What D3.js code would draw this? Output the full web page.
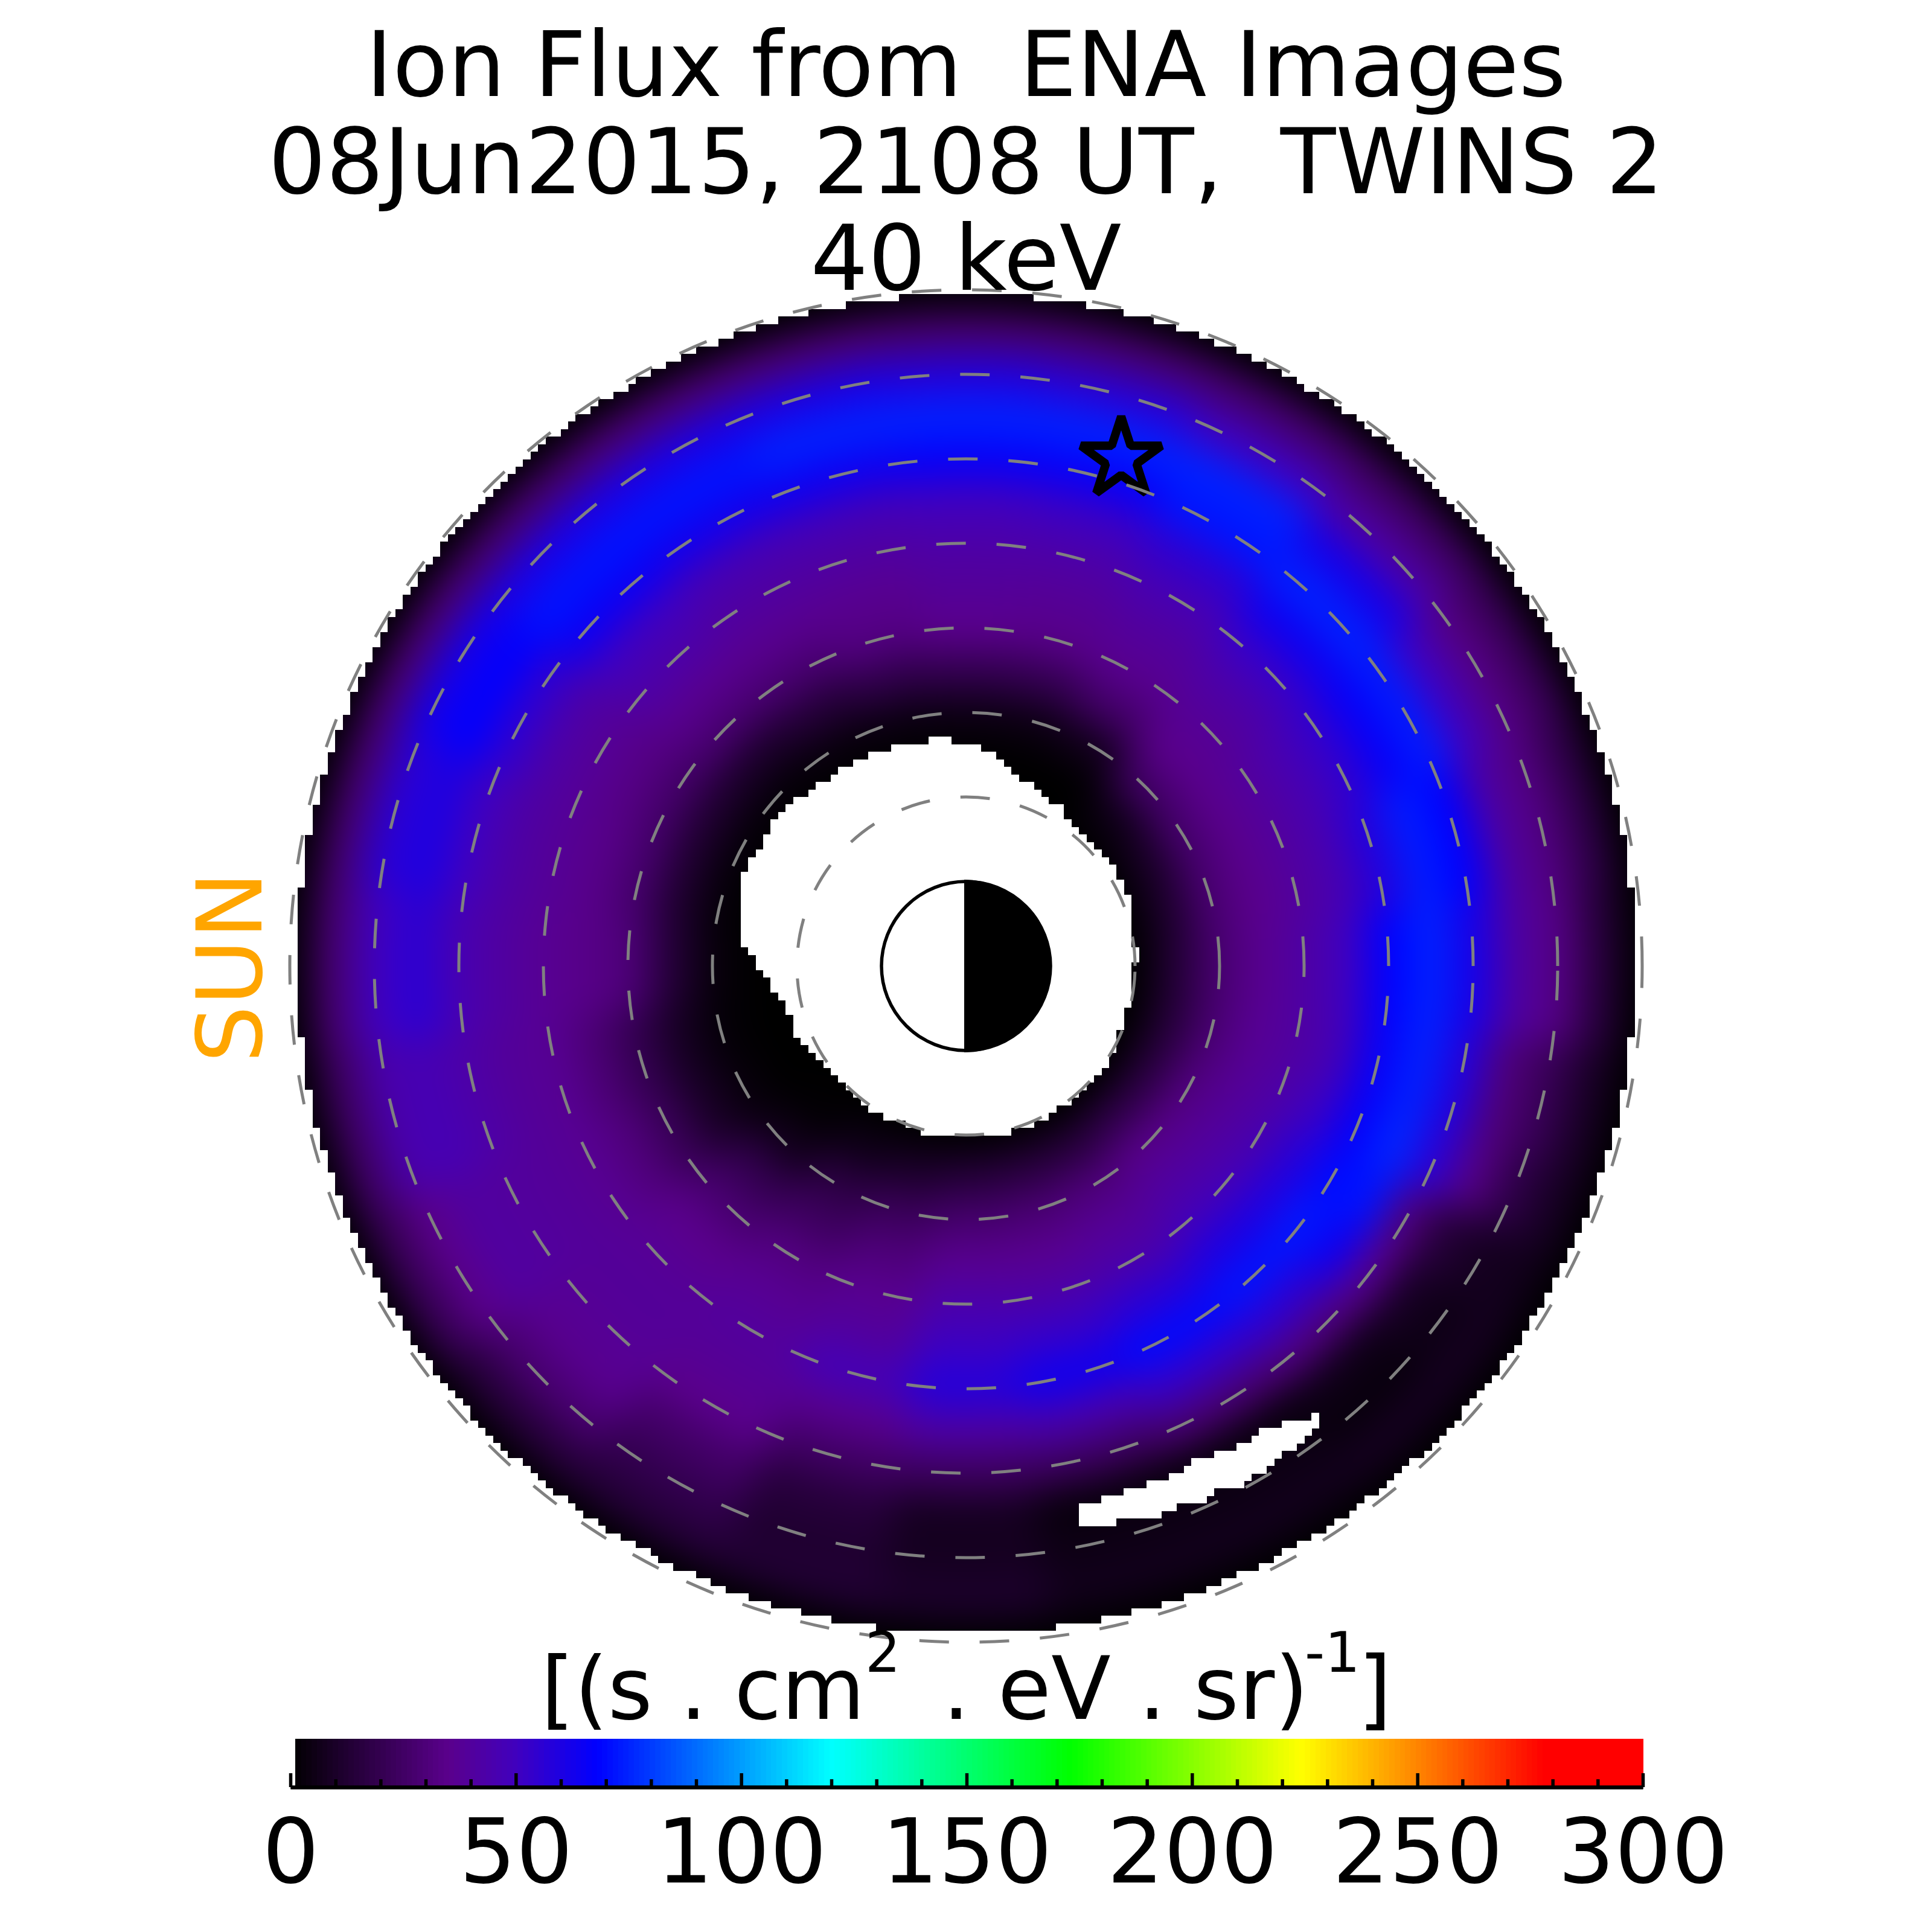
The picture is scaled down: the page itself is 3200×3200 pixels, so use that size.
<!DOCTYPE html>
<html><head><meta charset="utf-8">
<script src="https://cdn.jsdelivr.net/npm/d3@7/dist/d3.min.js"></script>
<style>html,body{margin:0;padding:0;background:#fff}svg{display:block}text{font-family:"DejaVu Sans";white-space:pre}</style>
</head><body><svg id="c" width="3200" height="3200"></svg>
<script>
const spokeAngles = [0,15,30,45,60,75,90,105,120,135,150,165,180,195,210,225,240,255,270,285,300,315,322.5,330,337.5,345];
const shellRadii  = [2,2.5,3,3.5,4,4.5,5,5.5,6,6.5,7,7.5,8];
const flux = [
 [0,14,28,36,42,50,68,75,62,42,33,15,0],
 [0,12,28,35,40,46,58,74,68,42,32,18,0],
 [0,10,27,35,40,46,54,66,74,50,33,22,0],
 [0,6,25,35,38,43,52,64,75,62,42,25,0],
 [0,0,7,26,36,40,46,55,72,75,50,27,0],
 [0,0,5,20,34,38,43,51,66,75,56,28,0],
 [0,0,5,20,35,39,43,50,66,75,58,28,0],
 [0,0,4,18,32,36,41,48,64,75,60,29,0],
 [0,0,3,14,28,36,41,47,63,72,60,29,0],
 [0,0,2,11,28,36,43,50,65,72,60,28,0],
 [0,0,2,12,26,33,38,43,55,68,62,29,0],
 [0,0,2,12,27,34,38,42,50,60,56,28,0],
 [0,0,3,14,30,34,37,41,46,56,50,28,0],
 [0,0,2,9,20,29,37,39,43,47,45,25,0],
 [0,0,3,10,22,31,37,39,40,41,35,22,0],
 [0,1,7,20,28,35,38,39,38,36,28,15,0],
 [0,6,17,24,32,37,40,38,35,26,20,14,0],
 [0,10,22,30,36,40,48,36,25,15,12,13,0],
 [0,14,27,36,44,51,58,42,24,8,8,11,0],
 [0,15,28,36,43,53,64,45,24,3,5,7,0],
 [0,15,30,38,44,56,70,53,29,3,5,7,0],
 [0,18,34,41,48,60,72,55,32,6,3,8,0],
 [0,17,33,40,47,59,73,64,36,9,5,8,0],
 [0,16,32,39,45,57,70,72,32,14,8,7,0],
 [0,15,30,38,43,52,67,76,56,33,18,9,0],
 [0,14,28,37,41,48,66,75,58,31,22,10,0]
];
const colorStops  = [0,35,50,68,120,173,224,278,300];
const colorValues = ["#000000","#5a008c","#4100be","#0000ff","#00ffff","#00ff00","#ffff00","#ff0000","#ff0000"];
const majorTicks = [0,50,100,150,200,250,300];
const minorTicks = [10,20,30,40,60,70,80,90,110,120,130,140,160,170,180,190,210,220,230,240,260,270,280,290];
const shells = [2,3,4,5,6,7,8];
const titleLines = ["Ion Flux from  ENA Images","08Jun2015, 2108 UT,  TWINS 2","40 keV"];
const starPoint = [1.836,6.0];
const outerLimit = 7.92;
const outerCentreY = 0.03;
const holeOutline = [[-0.36,2.68],[-0.84,2.59],[-1.29,2.46],[-1.56,2.26],[-1.87,2.05],[-2.18,1.85],[-2.28,1.74],[-2.40,1.46],[-2.51,1.34],[-2.59,1.16],[-2.68,1.03],[-2.68,0.23],[-2.51,0.11],[-2.40,-0.09],[-2.28,-0.26],[-2.09,-0.58],[-1.97,-0.89],[-1.69,-1.19],[-1.40,-1.49],[-1.15,-1.69],[-0.89,-1.81],[-0.35,-2.03],[0.36,-2.03],[0.98,-1.78],[1.47,-1.38],[1.68,-1.12],[1.88,-0.66],[2.01,0.08],[1.96,0.70],[1.88,0.94],[1.78,1.12],[1.60,1.32],[1.29,1.65],[1.16,1.83],[0.88,2.05],[0.57,2.26],[0.45,2.45],[0.14,2.59],[-0.27,2.68]];
const slitOutline = [[4.15,-5.26],[4.06,-5.26],[4.06,-5.36],[3.84,-5.36],[3.53,-5.49],[3.36,-5.59],[3.21,-5.68],[2.90,-5.80],[2.64,-5.89],[2.50,-5.98],[2.32,-6.07],[2.10,-6.16],[1.88,-6.21],[1.61,-6.29],[1.39,-6.39],[1.29,-6.47],[1.29,-6.61],[1.79,-6.61],[1.79,-6.51],[2.18,-6.51],[2.50,-6.47],[2.50,-6.39],[2.71,-6.39],[2.90,-6.29],[2.90,-6.21],[3.21,-6.16],[3.36,-6.07],[3.53,-5.98],[3.61,-5.89],[3.61,-5.80],[3.84,-5.76],[3.93,-5.67],[4.01,-5.59],[4.06,-5.49],[4.15,-5.44]];

const svg = d3.select("#c");
const x = d3.scaleLinear([-8,8],[480,2720]);
const y = d3.scaleLinear([-8,8],[2720,480]);
const rad = d3.scaleLinear([0,8],[0,1120]);
const color = d3.scaleLinear(colorStops,colorValues);
const cx = x(0), cy = y(0);

const defs = svg.append("defs");
const blur = defs.append("filter").attr("id","soft")
  .attr("filterUnits","userSpaceOnUse").attr("x",0).attr("y",0).attr("width",3200).attr("height",3200)
  .attr("color-interpolation-filters","sRGB");
blur.append("feGaussianBlur").attr("stdDeviation",31);
defs.append("clipPath").attr("id","field").append("circle").attr("cx",cx).attr("cy",cy).attr("r",rad(8.3));

// image: one arc cell per table value
const img = svg.append("g").attr("clip-path","url(#field)").append("g").attr("filter","url(#soft)")
  .append("g").attr("transform",`translate(${cx},${cy})`);
img.append("circle").attr("r",rad(9)).attr("fill","#000");
const arc = d3.arc();
const halfR = 0.25, n = spokeAngles.length;
flux.forEach((col,i)=>col.forEach((v,j)=>{
  const t = spokeAngles[i];
  const lo = t - ((t-spokeAngles[(i-1+n)%n]+360)%360)/2;
  const hi = t + ((spokeAngles[(i+1)%n]-t+360)%360)/2;
  const c = color(v);
  img.append("path").attr("fill",c).attr("stroke",c).attr("stroke-width",1.5)
    .attr("d",arc({innerRadius:rad(shellRadii[j]-halfR),outerRadius:rad(shellRadii[j]+halfR),
      startAngle:(90-hi)*Math.PI/180,endAngle:(90-lo)*Math.PI/180}));
}));

// masked (no data) cells on the image grid
const gridStep = 16/180;
const colsX = d3.range(-90,90).map(i=>i*gridStep);
const colsY = d3.range(-91,90).map(i=>(i+0.5)*gridStep);
let maskPath = d3.path();
const w = x(gridStep)-x(0);
colsX.forEach(gx=>colsY.forEach(gy=>{
  const mx=gx+gridStep/2,my=gy+gridStep/2;
  if(Math.hypot(mx,my-outerCentreY)>outerLimit||d3.polygonContains(holeOutline,[mx,my])||d3.polygonContains(slitOutline,[mx,my]))
    maskPath.rect(x(gx),y(gy+gridStep),w+0.5,w+0.5);
}));
svg.append("path").attr("d",maskPath.toString()).attr("fill","#fff").attr("shape-rendering","crispEdges");
// everything beyond the square grid is white too
svg.append("path").attr("fill-rule","evenodd").attr("fill","#fff")
  .attr("d",`M${cx-rad(8.6)},${cy-rad(8.6)}h${rad(17.2)}v${rad(17.2)}h${-rad(17.2)}z M${x(-8)},${y(8)}H${x(8)}V${y(-8)}H${x(-8)}z`);

// star
svg.append("path").attr("transform",`translate(${x(starPoint[0])},${y(starPoint[1])})`)
  .attr("d",d3.symbol(d3.symbolStar,5500)()).attr("fill","none").attr("stroke","#000")
  .attr("stroke-width",14).attr("stroke-linejoin","bevel");

// earth
svg.append("circle").attr("cx",cx).attr("cy",cy).attr("r",rad(1)).attr("fill","#fff").attr("stroke","#000").attr("stroke-width",5.5);
svg.append("path").attr("transform",`translate(${cx-3},${cy})`)
  .attr("d",d3.arc()({innerRadius:0,outerRadius:rad(1)+3,startAngle:0,endAngle:Math.PI})).attr("fill","#000");

// L shells
svg.append("g").selectAll("path").data(shells).join("path").attr("d",L=>{
  const p=d3.path(); p.moveTo(cx+rad(L),cy); p.arc(cx,cy,rad(L),0,2*Math.PI,true); return p.toString();
}).attr("fill","none").attr("stroke","#808080").attr("stroke-width",5).attr("stroke-dasharray","49 51");

// title
svg.append("g").selectAll("text").data(titleLines).join("text")
  .attr("x",1600).attr("y",(d,i)=>159+160.5*i).attr("text-anchor","middle").attr("font-size",150).text(d=>d);

// sun label
svg.append("text").attr("transform","translate(433,1602) rotate(-90)").attr("text-anchor","middle")
  .attr("font-size",150).attr("fill","#ffa500").text("SUN");

// units
const unitParts = [["[(s . cm",896,142,2847],["2",1433,92,2769],[". eV . sr)",1561,144,2847],["-1",2161,92,2769],["]",2249,144,2847]];
svg.append("g").selectAll("text").data(unitParts).join("text")
  .attr("x",d=>d[1]).attr("y",d=>d[3]).attr("font-size",d=>d[2]).text(d=>d[0]);

// colour bar
const bar = d3.scaleLinear([0,300],[481,2721]);
const levels = d3.range(0,256);
const barTop=2880, barBottom=2960;
svg.append("g").selectAll("rect").data(levels).join("rect")
  .attr("x",l=>Math.max(489,bar(l*300/256))).attr("y",barTop)
  .attr("width",l=>bar((l+1)*300/256)-Math.max(489,bar(l*300/256))+0.5).attr("height",barBottom-barTop)
  .attr("fill",l=>color((l+0.5)*300/256)).attr("shape-rendering","crispEdges");
const axMinor = svg.append("g").attr("transform",`translate(0,${barBottom})`)
  .call(d3.axisBottom(bar).tickValues(minorTicks).tickSizeInner(-13).tickSizeOuter(0).tickFormat(""));
const axMajor = svg.append("g").attr("transform",`translate(0,${barBottom})`)
  .call(d3.axisBottom(bar).tickValues(majorTicks).tickSizeInner(-23).tickSizeOuter(0).tickFormat(d3.format("d")));
svg.selectAll(".tick line").attr("stroke","#000").attr("stroke-width",5.5);
svg.selectAll(".domain").attr("stroke","#000").attr("stroke-width",6);
axMajor.selectAll("text").attr("font-family","DejaVu Sans").attr("font-size",148).attr("y",158).attr("dy",0).attr("fill","#000");
</script></body></html>
